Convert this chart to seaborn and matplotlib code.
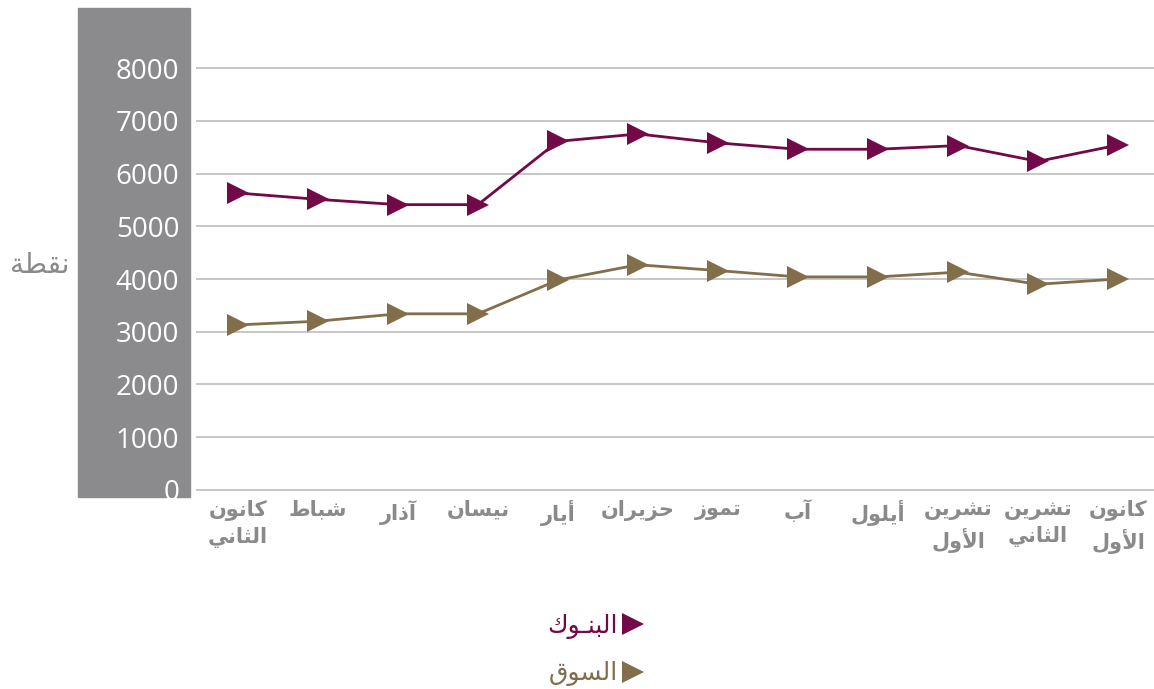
import matplotlib
matplotlib.use('Agg')
import matplotlib.pyplot as plt
from matplotlib.lines import Line2D
from matplotlib.patches import Rectangle
import seaborn as sns
import pandas as pd

# data
months = ['كانون\nالثاني', 'شباط', 'آذار', 'نيسان', 'أيار', 'حزيران', 'تموز',
          'آب', 'أيلول', 'تشرين\nالأول', 'تشرين\nالثاني', 'كانون\nالأول']
banks = [5630, 5510, 5410, 5410, 6610, 6750, 6580, 6460, 6460, 6530, 6230, 6540]
market = [3130, 3200, 3340, 3340, 3980, 4270, 4160, 4040, 4040, 4130, 3900, 4000]
series_names = ['البنـوك', 'السوق']
colors = ['#720948', '#836e4b']
y_ticks = [0, 1000, 2000, 3000, 4000, 5000, 6000, 7000, 8000]
y_label = 'نقطة'

# --- tiny arabic shaper: matplotlib draws glyphs left to right without joining ---
# (isolated, final, initial, medial)
FORMS = {
    'ا': ('\ufe8d', '\ufe8e', None, None),
    'آ': ('\ufe81', '\ufe82', None, None),
    'أ': ('\ufe83', '\ufe84', None, None),
    'ب': ('\ufe8f', '\ufe90', '\ufe91', '\ufe92'),
    'ة': ('\ufe93', '\ufe94', None, None),
    'ت': ('\ufe95', '\ufe96', '\ufe97', '\ufe98'),
    'ث': ('\ufe99', '\ufe9a', '\ufe9b', '\ufe9c'),
    'ح': ('\ufea1', '\ufea2', '\ufea3', '\ufea4'),
    'ذ': ('\ufeab', '\ufeac', None, None),
    'ر': ('\ufead', '\ufeae', None, None),
    'ز': ('\ufeaf', '\ufeb0', None, None),
    'س': ('\ufeb1', '\ufeb2', '\ufeb3', '\ufeb4'),
    'ش': ('\ufeb5', '\ufeb6', '\ufeb7', '\ufeb8'),
    'ط': ('\ufec1', '\ufec2', '\ufec3', '\ufec4'),
    'ق': ('\ufed5', '\ufed6', '\ufed7', '\ufed8'),
    'ك': ('\ufed9', '\ufeda', '\ufedb', '\ufedc'),
    'ل': ('\ufedd', '\ufede', '\ufedf', '\ufee0'),
    'م': ('\ufee1', '\ufee2', '\ufee3', '\ufee4'),
    'ن': ('\ufee5', '\ufee6', '\ufee7', '\ufee8'),
    'و': ('\ufeed', '\ufeee', None, None),
    'ي': ('\ufef1', '\ufef2', '\ufef3', '\ufef4'),
    'ـ': ('\u0640', '\u0640', '\u0640', '\u0640'),
    'لا': ('\ufefb', '\ufefc', None, None),
    'لأ': ('\ufef7', '\ufef8', None, None),
    'لآ': ('\ufef5', '\ufef6', None, None),
}


def shape_line(s):
    toks = []
    i = 0
    while i < len(s):
        if s[i] == 'ل' and i + 1 < len(s) and s[i:i + 2] in FORMS:
            toks.append(s[i:i + 2])
            i += 2
        else:
            toks.append(s[i])
            i += 1
    out = []
    for k, t in enumerate(toks):
        if t not in FORMS:
            out.append(t)
            continue
        prev = toks[k - 1] if k > 0 else None
        nxt = toks[k + 1] if k + 1 < len(toks) else None
        jp = prev in FORMS and FORMS[prev][2] is not None
        jn = FORMS[t][2] is not None and nxt in FORMS
        f = FORMS[t]
        if jp and jn:
            out.append(f[3])
        elif jp:
            out.append(f[1])
        elif jn:
            out.append(f[2])
        else:
            out.append(f[0])
    return ''.join(reversed(out))


def ar(text):
    return '\n'.join(shape_line(l) for l in text.split('\n'))


sns.set_style('white')
plt.rcParams['font.family'] = ['DejaVu Sans']

fig = plt.figure(figsize=(11.54, 6.89), dpi=100)
W, H = 1154, 689
# grey band behind the y tick labels
fig.patches.append(Rectangle((78 / W, 1 - 497 / H), 112 / W, 489 / H,
                             transform=fig.transFigure, color='#8b8b8d', zorder=-5))
ax = fig.add_axes([196 / W, 1 - 497 / H, 958 / W, 489 / H])
ax.set_facecolor('none')
ax.patch.set_visible(False)

df = pd.DataFrame({'x': range(len(months)), 'banks': banks, 'market': market})
for col, c in zip(['banks', 'market'], colors):
    sns.lineplot(data=df, x='x', y=col, ax=ax, color=c, linewidth=2.0,
                 marker='>', markersize=16, markeredgewidth=0, sort=False, zorder=3)

ax.set_xlim(-0.525, 11.45)
ax.set_ylim(-133, 9138)
ax.set_yticks(y_ticks)
ax.set_yticklabels([str(v) for v in y_ticks], family=['Open Sans', 'DejaVu Sans'],
                   fontsize=20, color='white')
ax.set_xticks(range(len(months)))
ax.set_xticklabels([ar(m) for m in months], fontsize=15, fontweight='bold',
                   color='#8a8a8b', linespacing=1.4)
ax.tick_params(axis='y', length=0, pad=12)
ax.tick_params(axis='x', length=0, pad=2)
ax.grid(axis='y', color='#b8b8b8', linewidth=1.1)
ax.grid(axis='x', visible=False)
for s in ax.spines.values():
    s.set_visible(False)
ax.set_xlabel('')
ax.set_ylabel('')

fig.text(40 / W, 1 - 265 / H, ar(y_label), fontsize=20, color='#8a8a8b',
         ha='center', va='center')

handles = [Line2D([], [], color=c, marker='>', linestyle='none', markersize=16,
                  markeredgewidth=0) for c in colors]
fig.legend(handles, [ar(n) for n in series_names], loc='center',
           bbox_to_anchor=(595 / W, 1 - 650 / H), markerfirst=False, frameon=False,
           labelcolor=colors, fontsize=18, handlelength=0.8, handletextpad=0.2,
           labelspacing=0.9)

fig.savefig('out.png', dpi=100)
